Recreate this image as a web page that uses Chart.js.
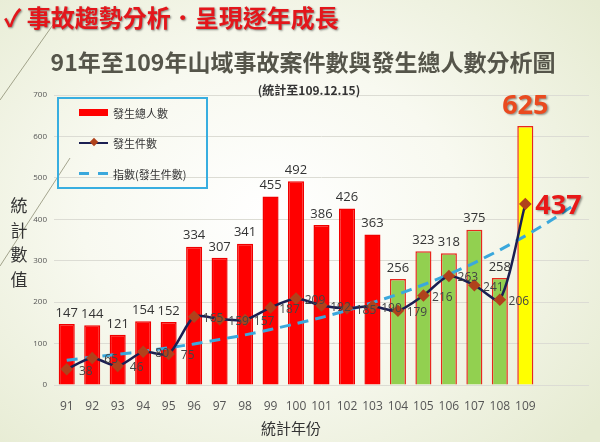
<!DOCTYPE html>
<html>
<head>
<meta charset="utf-8">
<script src="https://cdn.jsdelivr.net/npm/chart.js@4"></script>
<style>
  html, body { margin:0; padding:0; }
  body { width:600px; height:442px; overflow:hidden; position:relative;
         background: radial-gradient(ellipse 70% 75% at 45% 48%, #ffffff 0%, #f8f9f0 45%, #e6ebd2 100%);
         font-family:"Noto Sans CJK TC","Noto Sans",sans-serif; }
  #cv { position:absolute; left:0; top:0; }
  .txt { position:absolute; white-space:nowrap; }
  #head { left:4px; top:-1px; font-size:24px; font-weight:bold; color:#e3161b;
          text-shadow:1px 1px 2px rgba(0,0,0,0.45); }
  #title { left:0; width:606px; text-align:center; top:44px; font-size:23px; font-weight:bold; color:#55554a; }
  #sub { left:0; width:618px; text-align:center; top:81px; font-size:12px; font-weight:bold; color:#333; }
  #ytitle { left:8px; top:193px; width:22px; font-size:17px; line-height:24.5px; color:#333; text-align:center; white-space:normal; }
  #xtitle { left:0; width:582px; text-align:center; top:417px; font-size:15px; color:#333; }
  #legend { position:absolute; left:57px; top:97px; width:147px; height:88px; border:2px solid #38aee0; }
  .item { position:absolute; left:20px; height:20px; font-size:11px; color:#333; line-height:20px; }
  .item span { position:absolute; left:34px; top:0; white-space:nowrap; }
  .sw { position:absolute; left:0; }
</style>
</head>
<body>
<canvas id="cv" width="600" height="442"></canvas>
<div class="txt" id="head">✓ 事故趨勢分析．呈現逐年成長</div>
<div class="txt" id="title">91年至109年山域事故案件數與發生總人數分析圖</div>
<div class="txt" id="sub">(統計至109.12.15)</div>
<div class="txt" id="ytitle">統<br>計<br>數<br>值</div>
<div class="txt" id="xtitle">統計年份</div>
<div id="legend">
  <div class="item" style="top:4px;"><div class="sw" style="top:6px;width:29px;height:7px;background:#ff0000;"></div><span>發生總人數</span></div>
  <div class="item" style="top:34px;"><div class="sw" style="top:9px;width:29px;height:2px;background:#1b1f52;"></div>
    <div class="sw" style="top:6px;left:12px;width:6px;height:6px;background:#b0421c;transform:rotate(45deg);"></div><span>發生件數</span></div>
  <div class="item" style="top:65px;"><div class="sw" style="top:8px;width:10px;height:3px;background:#3aa8dc;"></div>
    <div class="sw" style="top:8px;left:19px;width:10px;height:3px;background:#3aa8dc;"></div><span>指數(發生件數)</span></div>
</div>
<script>
//DATA
var years = ['91','92','93','94','95','96','97','98','99','100','101','102','103','104','105','106','107','108','109','',''];
var people = [147,144,121,154,152,334,307,341,455,492,386,426,363,256,323,318,375,258,625,null,null];
var cases = [38,65,46,80,75,165,159,157,187,209,192,185,190,179,216,263,241,206,437,null,null];
// exponential trend (extends two periods past 109)
var trend = [60,67,74,81,90,99,110,121,134,148,163,180,199,219,242,267,295,326,360,397,438];

var barColors = [], barBorders = [];
for (var i = 0; i < years.length; i++) {
  if (i < 13) { barColors.push('#ff0000'); barBorders.push('#f00000'); }
  else if (i < 18) { barColors.push('#92d050'); barBorders.push('#e8281e'); }
  else { barColors.push('#ffff00'); barBorders.push('#e8281e'); }
}

var decor = {
  id: 'decor',
  beforeDraw: function(chart) {
    var ctx = chart.ctx;
    ctx.save();
    ctx.strokeStyle = 'rgba(110,110,80,0.6)';
    ctx.lineWidth = 1;
    ctx.beginPath();
    ctx.moveTo(62, 12); ctx.lineTo(0, 100);
    ctx.moveTo(70, 158); ctx.lineTo(0, 266);
    ctx.stroke();
    ctx.restore();
  }
};

var labels = {
  id: 'labels',
  afterDatasetsDraw: function(chart) {
    var ctx = chart.ctx;
    var bars = chart.getDatasetMeta(0).data;
    var pts = chart.getDatasetMeta(1).data;
    ctx.save();
    ctx.textAlign = 'center';
    ctx.textBaseline = 'middle';
    for (var i = 0; i < 19; i++) {
      var b = bars[i];
      if (i == 18) {
        ctx.save();
        ctx.font = 'bold 27px "Open Sans", "DejaVu Sans", sans-serif';
        ctx.fillStyle = '#ea4a1f';
        ctx.shadowColor = 'rgba(0,0,0,0.4)'; ctx.shadowOffsetX = 1.5; ctx.shadowOffsetY = 1.5; ctx.shadowBlur = 2;
        ctx.fillText(people[i], b.x, b.y - 20);
        ctx.restore();
      } else {
        ctx.font = '13px "Open Sans", sans-serif';
        ctx.fillStyle = '#333';
        ctx.fillText(people[i], b.x, b.y - 11);
      }
    }
    for (var j = 0; j < 19; j++) {
      var p = pts[j];
      if (j == 18) {
        ctx.save();
        ctx.textAlign = 'left';
        ctx.font = 'bold 27px "Open Sans", "DejaVu Sans", sans-serif';
        ctx.fillStyle = '#e81818';
        ctx.shadowColor = 'rgba(0,0,0,0.4)'; ctx.shadowOffsetX = 1.5; ctx.shadowOffsetY = 1.5; ctx.shadowBlur = 2;
        ctx.fillText(cases[j], p.x + 10, p.y + 2);
        ctx.restore();
      } else {
        ctx.font = '12px "Open Sans", sans-serif';
        ctx.fillStyle = '#444';
        ctx.fillText(cases[j], p.x + 19, p.y + 2);
      }
    }
    ctx.restore();
  }
};

var ctx = document.getElementById('cv').getContext('2d');
var chart = new Chart(ctx, {
  type: 'bar',
  data: {
    labels: years,
    datasets: [
      { type: 'bar', label: '發生總人數', data: people, backgroundColor: barColors, borderColor: barBorders,
        borderWidth: 1.5, barPercentage: 0.63, categoryPercentage: 1, order: 3 },
      { type: 'line', label: '發生件數', data: cases, borderColor: '#1b1f52', borderWidth: 2.5,
        pointStyle: 'rectRot', pointRadius: 4.5, pointBackgroundColor: '#b0421c', pointBorderColor: '#b0421c',
        tension: 0.25, order: 1 },
      { type: 'line', label: '指數(發生件數)', data: trend, borderColor: '#3aa8dc', borderWidth: 3,
        borderDash: [11, 7], pointRadius: 0, tension: 0.2, order: 2 }
    ]
  },
  options: {
    responsive: false,
    animation: false,
    devicePixelRatio: 1,
    layout: { padding: { top: 95, right: 11, bottom: 27, left: 0 } },
    plugins: { legend: { display: false }, tooltip: { enabled: false } },
    scales: {
      x: {
        grid: { display: false },
        border: { display: false },
        ticks: { padding: 6, color: '#555', font: { size: 12, family: '"Open Sans", sans-serif' }, autoSkip: false, maxRotation: 0 },
        afterFit: function(s) { s.height = 30; }
      },
      y: {
        min: 0, max: 700,
        grid: { color: '#dcdcd4', drawTicks: false },
        border: { display: false },
        ticks: { stepSize: 100, padding: 7, color: '#555', font: { size: 8, family: '"Open Sans", sans-serif' } },
        afterFit: function(s) { s.width = 54; }
      }
    }
  },
  plugins: [decor, labels]
});
</script>
</body>
</html>
